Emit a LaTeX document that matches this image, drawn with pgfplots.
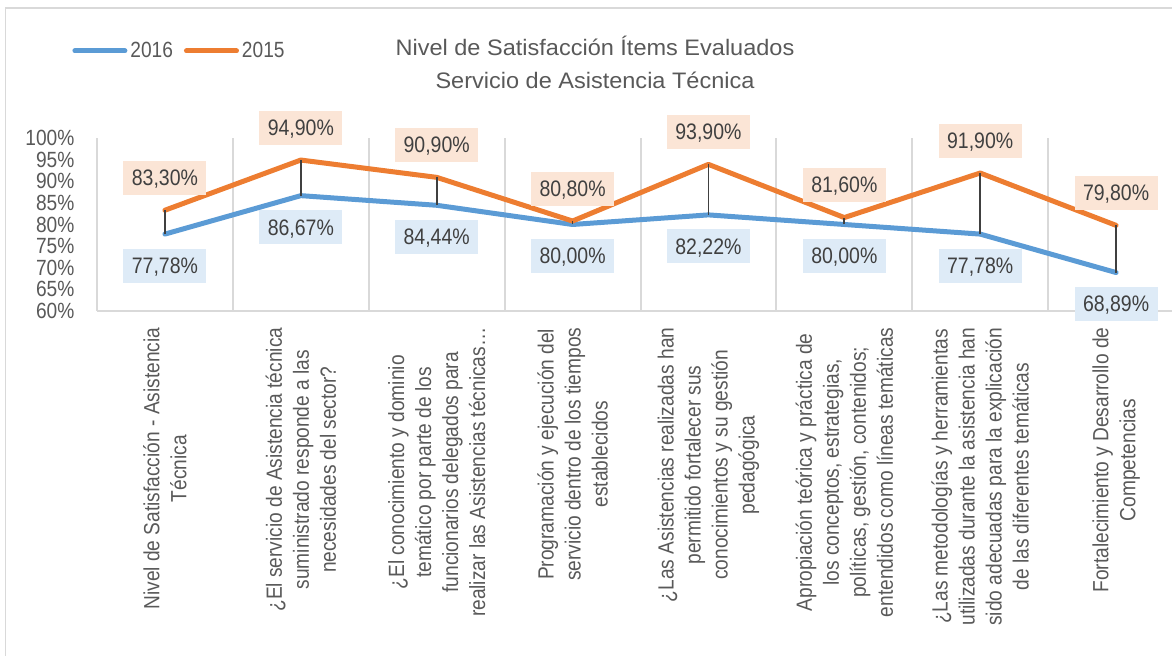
\documentclass[border=0pt]{standalone}
\usepackage{pgfplots}
\pgfplotsset{compat=1.18}
\usepackage{fontspec}
\setmainfont{Liberation Sans}[FakeStretch=0.87]
\newfontfamily\titlefont{Liberation Sans}[FakeStretch=1.05]
\definecolor{cblue}{HTML}{5B9BD5}
\definecolor{corange}{HTML}{ED7D31}
\definecolor{lblue}{HTML}{DEEBF7}
\definecolor{lorange}{HTML}{FBE5D6}
\definecolor{txt}{HTML}{595959}
\definecolor{dtxt}{HTML}{404040}
\definecolor{gridc}{HTML}{D9D9D9}
\begin{document}
\begin{tikzpicture}
\path[use as bounding box] (0,0) rectangle (586pt,328pt);
\draw[gridc, line width=0.8pt] (2.65pt,-5pt) -- (2.65pt,324pt) -- (590pt,324pt);
\node[anchor=base, text=txt, font=\titlefont\fontsize{11.2}{13}\selectfont] at (297.5pt,300.15pt) {Nivel de Satisfacción Ítems Evaluados};
\node[anchor=base, text=txt, font=\titlefont\fontsize{11.2}{13}\selectfont] at (297.5pt,283.85pt) {Servicio de Asistencia Técnica};
\begin{axis}[
  at={(48.5pt,172.5pt)}, anchor=south west,
  scale only axis, width=543.5pt, height=86.5pt,
  xmin=-0.5, xmax=7.5, ymin=60, ymax=100,
  clip=false,
  axis x line*=bottom, axis y line*=left,
  axis line style={draw=gridc, line width=1pt, -},
  xtick={0,...,7},
  minor xtick={0.5,1.5,...,6.5},
  xminorgrids=true,
  minor grid style={draw=gridc, line width=1pt},
  major tick length=0pt, minor tick length=0pt,
  ytick={60,65,...,100},
  yticklabel={\pgfmathprintnumber[assume math mode=true]{\tick}\%},
  yticklabel style={font=\fontsize{11}{11}\selectfont, text=txt},
  yticklabel shift=7.8pt,
  xticklabels={
    {Nivel de Satisfacción - Asistencia\\Técnica},
    {¿El servicio de Asistencia técnica\\suministrado responde a las\\necesidades del sector?},
    {¿El conocimiento y dominio\\temático por parte de los\\funcionarios delegados para\\realizar las Asistencias técnicas…},
    {Programación y ejecución del\\servicio dentro de los tiempos\\establecidos},
    {¿Las Asistencias realizadas han\\permitido fortalecer sus\\conocimientos y su gestión\\pedagógica},
    {Apropiación teórica y práctica de\\los conceptos, estrategias,\\políticas, gestión, contenidos;\\entendidos como líneas temáticas},
    {¿Las metodologías y herramientas\\utilizadas durante la asistencia han\\sido adecuadas para la explicación\\de las diferentes temáticas},
    {Fortalecimiento y Desarrollo de\\Competencias}
  },
  xticklabel style={rotate=90, anchor=east, align=center, font=\fontsize{11}{13.5}\selectfont, text=txt},
  xticklabel shift=4.8pt,
  legend columns=2,
  legend style={at={(-0.023,1.503)}, anchor=west, draw=none, fill=none,
    font=\fontsize{11}{11}\selectfont, text=txt, inner sep=0pt,
    nodes={inner sep=1.5pt},
    /tikz/every even column/.append style={column sep=4pt}},
  legend image code/.code={\draw[#1, line cap=round] (1.25pt,0pt) -- (26.25pt,0pt);},
]
\addplot[cblue, line width=2.5pt, line join=round, line cap=round,
  point meta=y,
  nodes near coords={\pgfmathprintnumber[fixed, fixed zerofill, precision=2, use comma, assume math mode=true]{\pgfplotspointmeta}\%},
  every node near coord/.append style={fill=lblue, text=dtxt, anchor=south, yshift=-25.5pt,
    font=\fontsize{11.2}{11}\selectfont, minimum height=17pt, inner ysep=0pt, inner xsep=4.25pt,
    text height=7.9pt, text depth=0pt}]
  coordinates {(0,77.78) (1,86.67) (2,84.44) (3,80.00) (4,82.22) (5,80.00) (6,77.78) (7,68.89)};
\addlegendentry{2016}
\addplot[corange, line width=2.5pt, line join=round, line cap=round,
  point meta=y,
  nodes near coords={\pgfmathprintnumber[fixed, fixed zerofill, precision=2, use comma, assume math mode=true]{\pgfplotspointmeta}\%},
  every node near coord/.append style={fill=lorange, text=dtxt, anchor=south, yshift=6.5pt,
    font=\fontsize{11.2}{11}\selectfont, minimum height=17pt, inner ysep=0pt, inner xsep=4.25pt,
    text height=7.9pt, text depth=0pt}]
  coordinates {(0,83.30) (1,94.90) (2,90.90) (3,80.80) (4,93.90) (5,81.60) (6,91.90) (7,79.80)};
\addlegendentry{2015}
\addplot[dtxt, line width=0.9pt, forget plot, unbounded coords=jump]
  coordinates {(0,77.78) (0,83.30) (0,nan) (1,86.67) (1,94.90) (1,nan) (2,84.44) (2,90.90) (2,nan)
    (3,80.00) (3,80.80) (3,nan) (4,82.22) (4,93.90) (4,nan) (5,80.00) (5,81.60) (5,nan)
    (6,77.78) (6,91.90) (6,nan) (7,68.89) (7,79.80)};
\end{axis}
\end{tikzpicture}
\end{document}
